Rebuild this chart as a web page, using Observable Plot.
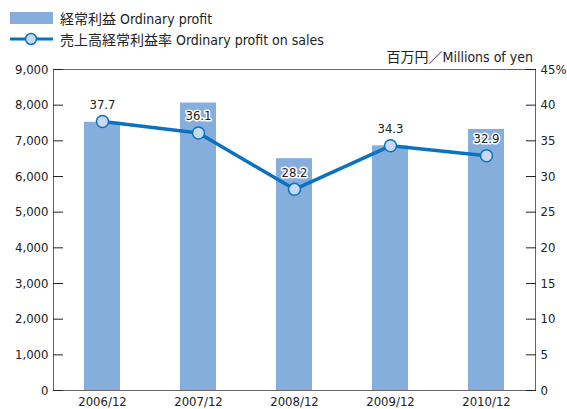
<!DOCTYPE html>
<html><head><meta charset="utf-8">
<script src="https://cdn.jsdelivr.net/npm/d3@7"></script>
<script src="https://cdn.jsdelivr.net/npm/@observablehq/plot@0.6"></script>
<style>
body{margin:0;background:#fff;font-family:"Liberation Sans Narrow","DejaVu Sans Condensed","Noto Sans CJK JP",sans-serif;}
#wrap{position:relative;width:567px;height:409px;overflow:hidden;}
#legend{height:44px;position:relative;}
.row{position:absolute;left:10px;display:flex;align-items:center;font-size:14px;color:#222;white-space:nowrap;}
.unit{position:absolute;right:34px;top:46px;font-size:14px;color:#222;white-space:nowrap;}
svg text{font-family:"Liberation Sans Narrow","DejaVu Sans Condensed","Noto Sans CJK JP",sans-serif;}
</style></head><body>
<div id="wrap">
  <div id="legend">
    <div class="row" style="top:8px"><svg width="43" height="14" style="margin-right:7px"><rect x="0" y="1" width="43" height="12" fill="#86aedd"/></svg><span>経常利益 Ordinary profit</span></div>
    <div class="row" style="top:29px"><svg width="43" height="14" style="margin-right:7px"><line x1="0" x2="43" y1="7" y2="7" stroke="#0a72bf" stroke-width="3"/><circle cx="21" cy="7" r="5.5" fill="#c9daf0" stroke="#0a72bf" stroke-width="1.5"/></svg><span>売上高経常利益率 Ordinary profit on sales</span></div>
    <div class="unit">百万円／Millions of yen</div>
  </div>
  <div id="chart"></div>
</div>
<script>
const years = ["2006/12","2007/12","2008/12","2009/12","2010/12"];
const profit = [7520, 8060, 6500, 6860, 7320];
const ratio = [37.7, 36.1, 28.2, 34.3, 32.9];
const leftTicks = [0,1000,2000,3000,4000,5000,6000,7000,8000,9000];
const rightTicks = [0,5,10,15,20,25,30,35,40,45];
const k = 9000 / 45;

const data = years.map((y, i) => ({year: y, profit: profit[i], ratio: ratio[i]}));

const chart = Plot.plot({
  width: 567,
  height: 365,
  marginLeft: 53,
  marginRight: 32,
  marginTop: 25,
  marginBottom: 19,
  style: {fontSize: "13px", color: "#222", background: "#fff", overflow: "visible"},
  x: {domain: years, paddingInner: 0.62, paddingOuter: 0.31, label: null},
  y: {domain: [0, 9000], label: null},
  marks: [
    Plot.barY(data, {x: "year", y: "profit", fill: "#86aedd"}),
    Plot.frame({stroke: "#666", strokeWidth: 1}),
    Plot.axisX({tickSize: 0, tickPadding: 6, fontSize: 13}),
    Plot.axisY(leftTicks, {anchor: "left", tickSize: -10, tickPadding: 15, tickFormat: d3.format(","), stroke: "#222", fontSize: 13}),
    Plot.axisY(rightTicks.map(d => d * k), {anchor: "right", tickSize: -10, tickPadding: 15, tickFormat: d => d / k === 45 ? "45%" : String(d / k), stroke: "#222", fontSize: 13}),
    Plot.line(data, {x: "year", y: d => d.ratio * k, stroke: "#0a72bf", strokeWidth: 3.5}),
    Plot.dot(data, {x: "year", y: d => d.ratio * k, r: 6, fill: "#c9daf0", stroke: "#0a72bf", strokeWidth: 1.5}),
    Plot.text(data, {x: "year", y: d => d.ratio * k, text: d => d.ratio.toFixed(1), dy: -17, fontSize: 13, fill: "#222", stroke: "white", strokeWidth: 3})
  ]
});
document.getElementById("chart").appendChild(chart);
</script>
</body></html>
